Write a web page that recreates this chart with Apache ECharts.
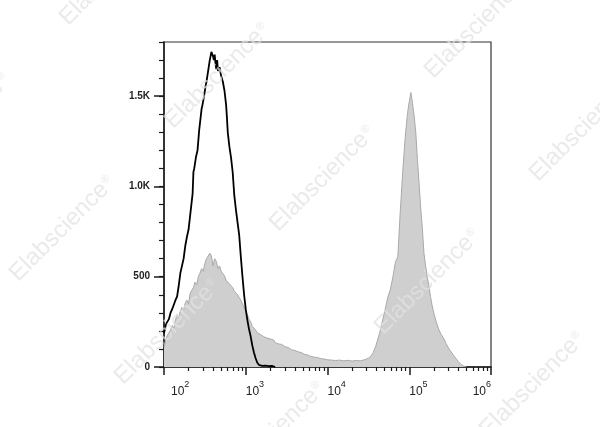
<!DOCTYPE html>
<html>
<head>
<meta charset="utf-8">
<script src="https://cdn.jsdelivr.net/npm/echarts@6/dist/echarts.min.js"></script>
<style>
html,body{margin:0;padding:0;background:#fff;}
#chart{width:600px;height:427px;}
</style>
</head>
<body>
<div id="chart"></div>
<script>
// log10(fluorescence) positions and event counts
var stainedLog = [2.00,2.02,2.04,2.06,2.08,2.10,2.12,2.14,2.16,2.18,2.20,2.22,2.24,2.26,2.28,2.30,2.32,2.34,2.36,2.38,2.40,2.42,2.44,2.46,2.48,2.50,2.52,2.54,2.56,2.58,2.60,2.62,2.64,2.66,2.68,2.70,2.72,2.74,2.76,2.78,2.80,2.82,2.84,2.86,2.88,2.90,2.92,2.94,2.96,2.98,3.00,3.02,3.04,3.06,3.08,3.10,3.12,3.14,3.16,3.18,3.20,3.22,3.24,3.26,3.28,3.30,3.32,3.34,3.36,3.40,3.44,3.48,3.52,3.56,3.60,3.64,3.68,3.72,3.76,3.80,3.84,3.88,3.92,3.96,4.00,4.05,4.10,4.15,4.20,4.25,4.30,4.35,4.40,4.45,4.50,4.53,4.56,4.59,4.62,4.65,4.68,4.71,4.74,4.77,4.80,4.83,4.86,4.89,4.92,4.95,4.98,5.00,5.02,5.04,5.06,5.08,5.10,5.12,5.14,5.16,5.18,5.20,5.22,5.24,5.26,5.28,5.30,5.33,5.36,5.39,5.42,5.45,5.48,5.51,5.54,5.57,5.60,5.63,5.66,5.70];
var stainedCount = [110,150,175,165,205,230,215,260,290,275,310,330,315,355,370,350,410,425,440,470,455,500,520,545,530,575,600,590,630,615,560,600,585,545,560,530,520,505,480,490,460,450,440,420,410,400,385,370,360,330,310,290,265,250,225,215,205,190,195,180,175,168,172,160,150,155,145,150,135,128,125,112,108,95,92,84,80,70,66,58,55,52,46,44,40,38,36,38,34,37,33,36,34,40,48,60,80,115,160,210,270,330,390,430,500,580,610,860,1080,1270,1410,1470,1520,1460,1390,1300,1150,1020,880,770,630,560,500,450,390,340,300,250,210,180,160,130,105,85,65,48,30,15,6,0];

var controlLog = [2.00,2.02,2.04,2.06,2.08,2.10,2.12,2.14,2.16,2.18,2.20,2.22,2.24,2.26,2.28,2.30,2.32,2.33,2.35,2.36,2.37,2.39,2.41,2.43,2.44,2.46,2.47,2.49,2.51,2.52,2.54,2.56,2.58,2.60,2.61,2.62,2.63,2.64,2.65,2.66,2.68,2.70,2.72,2.74,2.76,2.77,2.78,2.80,2.82,2.84,2.86,2.88,2.90,2.92,2.94,2.96,2.98,3.00,3.02,3.04,3.06,3.08,3.10,3.12,3.14,3.16,3.20,3.24,3.28,3.32,3.36];
var controlCount = [187,230,250,265,300,320,345,370,390,450,520,560,600,670,720,760,840,880,960,1080,1100,1160,1200,1310,1300,1430,1450,1500,1560,1580,1640,1700,1745,1720,1700,1730,1680,1650,1700,1640,1660,1610,1580,1530,1450,1380,1300,1220,1160,1080,950,870,800,730,610,500,400,320,260,210,170,120,80,50,25,12,6,8,5,6,0];

var xDecades = [2,3,4,5,6];
var yMajorTicks = [0,500,1000,1500];
var yLabels = ['0','500','1.0K','1.5K'];
var watermarkText = 'Elabscience';

function pairs(xs, ys){ var o=[]; for(var i=0;i<xs.length;i++) o.push([xs[i], ys[i]]); return o; }
var xMinor = [];
for (var d=2; d<6; d++) for (var k=2;k<=9;k++) xMinor.push(d+Math.log10(k));
var yMinor = [];
for (var v=0; v<=1800; v+=100) yMinor.push(v);

var wmFont = '"Liberation Sans", Arial, sans-serif';
var wmFill = 'rgba(226,226,226,0.72)';
var wm = [];
for (var i=-3;i<=3;i++) for (var j=-3;j<=3;j++){
  var x = 282 + 105*i + 155*j, y = 236 + 103*i - 153*j;
  if (x < -200 || x > 650 || y < -50 || y > 600) continue;
  wm.push({type:'text', x:x, y:y, rotation:Math.PI/4, z:100, silent:true,
    style:{text:'{a|'+watermarkText+'}{r|\u00AE}', textAlign:'left', textVerticalAlign:'bottom',
      rich:{a:{fill:wmFill, fontSize:24, fontFamily:wmFont, verticalAlign:'bottom', lineHeight:26},
            r:{fill:wmFill, fontSize:11, fontFamily:wmFont, verticalAlign:'bottom', lineHeight:12, padding:[0,0,11,1]}}}});
}

var lblFont = '"Liberation Sans Narrow", "Liberation Sans", Arial, sans-serif';
var chart = echarts.init(document.getElementById('chart'), null, {renderer:'canvas'});
var axisCol = '#1a1a1a';
chart.setOption({
  animation:false,
  backgroundColor:'#fff',
  grid:{left:164, right:109, top:42, bottom:60, show:true, borderColor:'#333', borderWidth:1.2, backgroundColor:'transparent'},
  xAxis:[{
    type:'value', min:2, max:6, position:'bottom',
    axisLine:{show:true, lineStyle:{color:axisCol, width:1.5}},
    axisTick:{show:true, customValues:xMinor, length:4, lineStyle:{color:axisCol, width:1.2}},
    splitLine:{show:false},
    axisLabel:{show:true, customValues:xDecades, margin:13, align:'left', alignMaxLabel:'right', color:'#222',
      formatter:function(val){ var n=Math.round(val); return (n===2?'{p|10}':'{b|10}')+'{s|'+n+'}'; },
      rich:{
        b:{fontSize:12, fontFamily:lblFont, color:'#222', verticalAlign:'bottom', lineHeight:18},
        p:{fontSize:12, fontFamily:lblFont, color:'#222', verticalAlign:'bottom', lineHeight:18, padding:[0,0,0,7]},
        s:{fontSize:9, fontFamily:lblFont, color:'#222', verticalAlign:'top', lineHeight:18}
      }}
  },{
    type:'value', min:2, max:6, position:'bottom', offset:0,
    axisLine:{show:false},
    axisTick:{show:true, customValues:xDecades, length:8, lineStyle:{color:axisCol, width:1.5}},
    axisLabel:{show:false}, splitLine:{show:false}
  }],
  yAxis:[{
    type:'value', min:0, max:1800, position:'left',
    axisLine:{show:true, lineStyle:{color:axisCol, width:1.5}},
    axisTick:{show:true, customValues:yMinor, length:5, lineStyle:{color:axisCol, width:1.2}},
    splitLine:{show:false},
    axisLabel:{show:true, customValues:yMajorTicks, margin:14, color:'#222', fontSize:10, fontWeight:'bold', fontFamily:'"Liberation Sans", Arial, sans-serif',
      formatter:function(val){ return yLabels[yMajorTicks.indexOf(val)]; }}
  },{
    type:'value', min:0, max:1800, position:'left', offset:0,
    axisLine:{show:false},
    axisTick:{show:true, customValues:yMajorTicks, length:10, lineStyle:{color:axisCol, width:1.5}},
    axisLabel:{show:false}, splitLine:{show:false}
  }],
  series:[{
    type:'line', xAxisIndex:0, yAxisIndex:0, data:pairs(stainedLog, stainedCount),
    showSymbol:false, smooth:false, z:2,
    lineStyle:{color:'#a9a9a9', width:1},
    areaStyle:{color:'#cfcfcf', opacity:1}
  },{
    type:'line', xAxisIndex:0, yAxisIndex:0, data:pairs(controlLog, controlCount),
    showSymbol:false, smooth:false, z:3,
    lineStyle:{color:'#000', width:1.8}
  }],
  graphic:wm
});
</script>
</body>
</html>
